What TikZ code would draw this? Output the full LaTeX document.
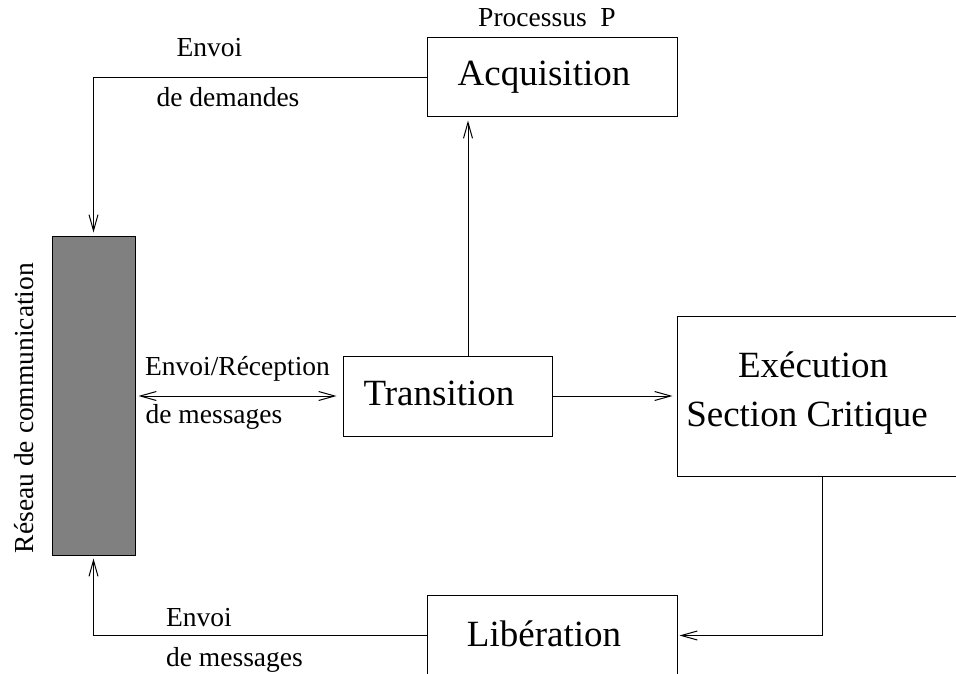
\documentclass[tikz,border=0pt]{standalone}
\usepackage{fontspec}
\setmainfont{Liberation Serif}
\usetikzlibrary{arrows.meta}
\begin{document}
\begin{tikzpicture}[x=1pt,y=-1pt,
  line width=1pt,
  >={Straight Barb[length=16pt,width=9pt]},
  box/.style={draw, rectangle, inner sep=0pt, line width=1pt},
  big/.style={font=\fontsize{37}{44}\selectfont, anchor=base, inner sep=0pt},
  small/.style={font=\fontsize{27.5}{33}\selectfont, anchor=base, inner sep=0pt},
  conn/.style={->, line width=1pt}]
\useasboundingbox (0,0) rectangle (956,674);
\clip (0,0) rectangle (956,674);

% boxes
\node[box, minimum width=250pt, minimum height=79pt] (acq) at (552,77.5) {};
\node[box, minimum width=209pt, minimum height=80pt] (tr) at (447.5,396) {};
\node[box, minimum width=323pt, minimum height=160pt] (exe) at (838.5,396) {};
\node[box, minimum width=250pt, minimum height=81pt] (lib) at (552,635.5) {};
\node[draw, fill=gray, inner sep=0pt, minimum width=83pt, minimum height=319pt] (res) at (93.5,395.5) {};

% box texts
\node[big] (acqt) at (544,86) {Acquisition};
\node[small] (proc) at (547,27) {Processus\ \ P};
\node[big] (trt) at (439,405) {Transition};
\node[big] (exet1) at (813,377) {Exécution};
\node[big] (exet2) at (807,426) {Section Critique};
\node[big] (libt) at (544,646) {Libération};
\node[small, rotate=90] (rest) at (34,408) {Réseau de communication};

% connector labels
\node[small] (l1) at (209.5,57) {Envoi};
\node[small] (l2) at (228,107) {de demandes};
\node[small] (l3) at (237.5,375) {Envoi/Réception};
\node[small] (l4) at (214,423) {de messages};
\node[small] (l5) at (199,626) {Envoi};
\node[small] (l6) at (234.5,666) {de messages};

% connectors
\coordinate (up) at (468,0);
\coordinate (exeout) at (822,476);
\draw[conn, shorten >=3pt] (acq.west) -| (res.north);
\draw[conn, shorten >=3pt] (lib.west) -| (res.south);
\draw[<->, shorten <=3pt, shorten >=6pt] (tr.west -| res.east) -- (tr.west);
\draw[conn, shorten >=3pt] (tr.north -| up) -- (acq.south -| up);
\draw[conn, shorten >=4pt] (tr.east) -- (exe.west);
\draw[conn, shorten >=2pt] (exeout) |- (lib.east);
\end{tikzpicture}
\end{document}
